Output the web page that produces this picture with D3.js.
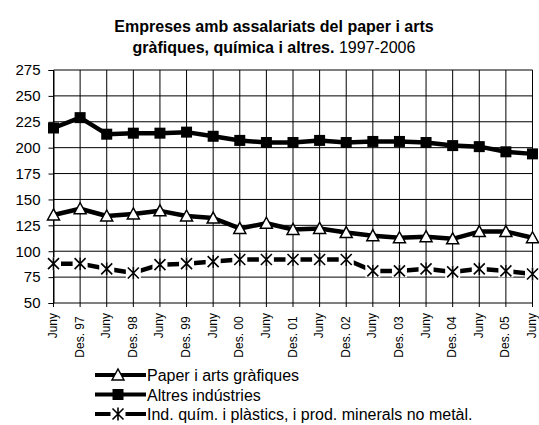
<!DOCTYPE html>
<html>
<head>
<meta charset="utf-8">
<script src="https://cdn.jsdelivr.net/npm/d3@7"></script>
<style>
  body { margin: 0; background: #fff; }
  svg { font-family: "Liberation Sans", Arial, sans-serif; }
</style>
</head>
<body>
<script>
const periods = ['Juny', 'Des. 97 ', 'Juny', 'Des. 98 ', 'Juny', 'Des. 99 ', 'Juny', 'Des. 00 ',
  'Juny', 'Des. 01 ', 'Juny', 'Des. 02 ', 'Juny', 'Des. 03 ', 'Juny', 'Des. 04 ', 'Juny', 'Des. 05 ', 'Juny'];
const paper = [135, 141, 134, 136, 139, 134, 132, 122, 127, 121, 122, 118, 115, 113, 114, 112, 119, 119, 113];
const altres = [219, 229, 213, 214, 214, 215, 211, 207, 205, 205, 207, 205, 206, 206, 205, 202, 201, 196, 194];
const quimica = [88, 88, 83, 79, 87, 88, 90, 92, 92, 92, 92, 92, 81, 81, 83, 80, 83, 81, 78];
const yTicks = [50, 75, 100, 125, 150, 175, 200, 225, 250, 275];

const series = [
  { name: 'Paper i arts gràfiques', values: paper, marker: 'triangle' },
  { name: 'Altres indústries', values: altres, marker: 'square' },
  { name: 'Ind. quím. i plàstics, i prod. minerals no metàl.', values: quimica, marker: 'x' }
];

const width = 539, height = 425;
const plotLeft = 53.5, plotRight = 532.5, plotTop = 70, plotBottom = 303;

const svg = d3.select('body').append('svg')
  .attr('width', width)
  .attr('height', height);

const x = d3.scalePoint()
  .domain(d3.range(periods.length))
  .range([plotLeft, plotRight]);

const y = d3.scaleLinear()
  .domain([50, 275])
  .range([plotBottom, plotTop]);

// title
const title = svg.append('text')
  .attr('text-anchor', 'middle')
  .style('font-size', '16px');
title.append('tspan').attr('x', 274).attr('y', 32)
  .style('font-weight', 'bold')
  .text('Empreses amb assalariats del paper i arts');
const t2 = title.append('tspan').attr('x', 274).attr('y', 53);
t2.append('tspan').style('font-weight', 'bold').text('gràfiques, química i altres.');
t2.append('tspan').text(' 1997-2006');

// grid
svg.append('g')
  .selectAll('line')
  .data(yTicks)
  .enter()
  .append('line')
  .attr('x1', plotLeft).attr('x2', plotRight)
  .attr('y1', (d) => y(d)).attr('y2', (d) => y(d))
  .attr('stroke', '#000').attr('stroke-width', 1);

svg.append('g')
  .selectAll('line')
  .data(d3.range(periods.length))
  .enter()
  .append('line')
  .attr('x1', (d) => x(d)).attr('x2', (d) => x(d))
  .attr('y1', plotTop).attr('y2', plotBottom + 4)
  .attr('stroke', '#000').attr('stroke-width', 1);

// y axis
const yAxis = d3.axisLeft(y).tickValues(yTicks).tickSize(5).tickPadding(8);
const gy = svg.append('g')
  .attr('transform', 'translate(' + plotLeft + ',0)')
  .call(yAxis);
gy.select('.domain').attr('stroke', '#000');
gy.selectAll('.tick text').style('font-size', '15px').attr('fill', '#000');

// x labels
svg.append('g')
  .selectAll('text')
  .data(periods)
  .enter()
  .append('text')
  .attr('transform', (d, i) => 'translate(' + (x(i) + 3.5) + ',' + (plotBottom + 10) + ') rotate(-90)')
  .attr('text-anchor', 'end')
  .style('font-size', '12px')
  .style('white-space', 'pre')
  .text((d) => d);

// lines
const line = d3.line()
  .x((d, i) => x(i))
  .y((d) => y(d));

function drawMarker(g, type, cx, cy) {
  if (type === 'square') {
    g.append('rect')
      .attr('x', cx - 5.5).attr('y', cy - 5.5)
      .attr('width', 11).attr('height', 11)
      .attr('fill', '#000');
  } else if (type === 'triangle') {
    g.append('path')
      .attr('d', 'M' + cx + ',' + (cy - 6) + 'L' + (cx + 6) + ',' + (cy + 5) + 'L' + (cx - 6) + ',' + (cy + 5) + 'Z')
      .attr('fill', '#fff').attr('stroke', '#000').attr('stroke-width', 1.5);
  } else {
    g.append('rect')
      .attr('x', cx - 7.5).attr('y', cy - 6.5)
      .attr('width', 15).attr('height', 13)
      .attr('fill', '#fff');
    g.append('path')
      .attr('d', 'M' + (cx - 5.5) + ',' + (cy - 5.5) + 'L' + (cx + 5.5) + ',' + (cy + 5.5) +
        'M' + (cx + 5.5) + ',' + (cy - 5.5) + 'L' + (cx - 5.5) + ',' + (cy + 5.5) +
        'M' + cx + ',' + (cy - 6.5) + 'L' + cx + ',' + (cy + 6.5))
      .attr('stroke', '#000').attr('stroke-width', 1.6).attr('fill', 'none');
  }
}

series.forEach((s) => {
  svg.append('path')
    .datum(s.values)
    .attr('d', line)
    .attr('fill', 'none')
    .attr('stroke', '#000')
    .attr('stroke-width', 4.5)
    .attr('stroke-linejoin', 'round');
  const g = svg.append('g');
  s.values.forEach((v, i) => drawMarker(g, s.marker, x(i), y(v)));
});

// legend
const legend = svg.append('g');
series.forEach((s, i) => {
  const ly = 375 + i * 19.5;
  legend.append('line')
    .attr('x1', 95).attr('x2', 146)
    .attr('y1', ly).attr('y2', ly)
    .attr('stroke', '#000').attr('stroke-width', 4);
  drawMarker(legend, s.marker, 118, ly);
  legend.append('text')
    .attr('x', 147).attr('y', ly + 6)
    .style('font-size', '16px')
    .text(s.name);
});
</script>
</body>
</html>
